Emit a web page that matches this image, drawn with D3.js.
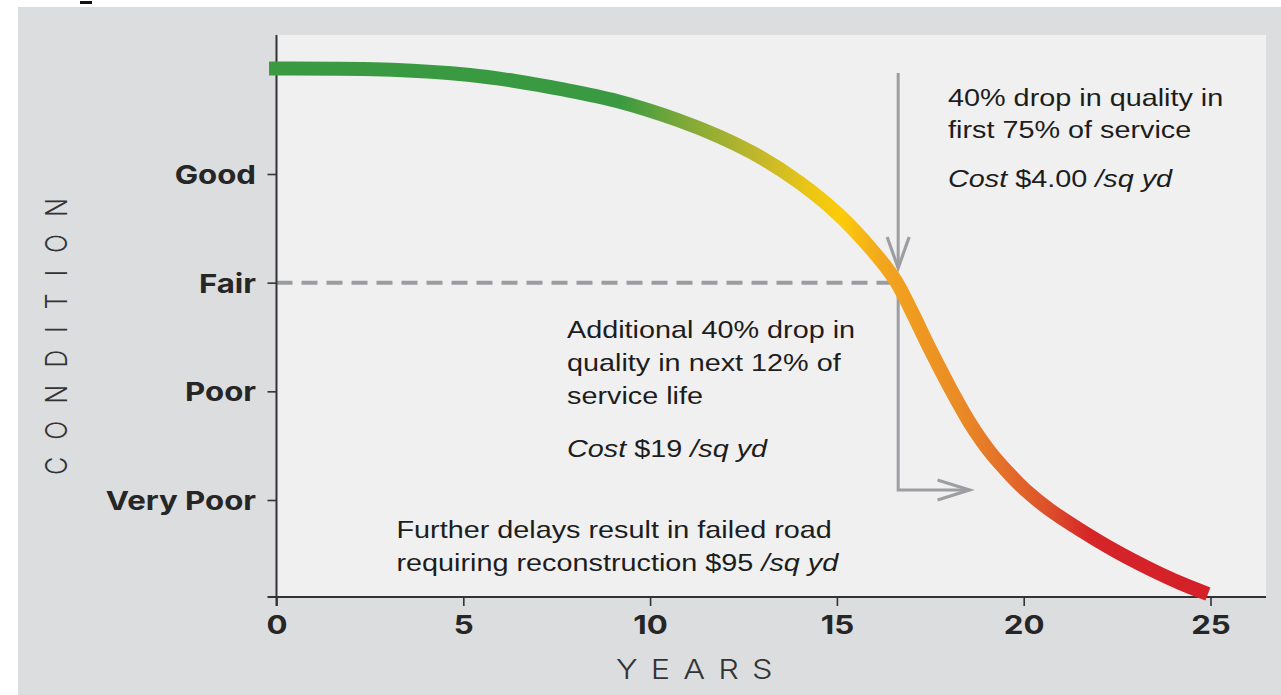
<!DOCTYPE html>
<html><head><meta charset="utf-8">
<script src="https://cdn.jsdelivr.net/npm/d3@7"></script>
<style>html,body{margin:0;padding:0;background:#fff;overflow:hidden} svg{display:block}</style>
</head><body><svg id="chart" width="1281" height="695"></svg>
<script>
// ---- data ----
const years = [-0.2, 3.09, 5.18, 6.38, 7.59, 9.11, 10.74, 11.87, 12.94, 14.01, 15.0, 15.94, 16.56, 17.01, 17.49, 18.03, 18.56, 19.10, 19.64, 20.04, 20.70, 21.51, 22.50, 23.38, 24.19, 24.93];
const condition = [4.971, 4.960, 4.911, 4.856, 4.783, 4.672, 4.497, 4.341, 4.157, 3.918, 3.641, 3.301, 3.025, 2.730, 2.390, 2.031, 1.709, 1.442, 1.231, 1.093, 0.909, 0.725, 0.522, 0.365, 0.236, 0.135];
const yearTicks = [0, 5, 10, 15, 20, 25];
const conditionTicks = [1, 2, 3, 4];
const conditionLabels = ["Very Poor", "Poor", "Fair", "Good"];
const fairLevel = 3;
const fairEndYear = 16.6;
// annotation arrows: [year, condition]
const arrowDown = [[16.64, 4.93], [16.64, 3.135]];
const arrowRight = [[16.64, 2.88], [16.64, 1.092], [18.55, 1.092]];
// colour along the years axis
const gradYears  = [0, 9.2, 10.8, 12.9, 14.2, 15.1, 16.2, 18.3, 19.4, 20.5, 21.8, 25];
const gradColors = ["#3a9a41", "#3a9a41", "#7aa83a", "#c2b72b", "#e9c516", "#fccc08", "#f2a61d", "#ea8a25", "#e4712a", "#de552b", "#d52528", "#d42029"];
const annTop = [
  [["40% drop in quality in", false]],
  [["first 75% of service", false]],
  [["Cost", true], [" $4.00 ", false], ["/sq yd", true]]
];
const annMid = [
  [["Additional 40% drop in", false]],
  [["quality in next 12% of", false]],
  [["service life", false]],
  [["Cost", true], [" $19 ", false], ["/sq yd", true]]
];
const annBottom = [
  [["Further delays result in failed road", false]],
  [["requiring reconstruction $95 ", false], ["/sq yd", true]]
];

// ---- layout ----
const SX = 1.2; // horizontal stretch of text
const svg = d3.select("#chart");
const x = d3.scaleLinear().domain([0, 25]).range([276.5, 1210.5]);
const y = d3.scaleLinear().domain([1, 4]).range([500, 174]);
const plot = {left: 277, right: 1266, top: 35, bottom: 597};

svg.append("rect").attr("x", 0).attr("y", 0).attr("width", 1281).attr("height", 695).attr("fill", "#ffffff");
svg.append("rect").attr("x", 18).attr("y", 7).attr("width", 1263).attr("height", 688).attr("fill", "#dcdddf");
svg.append("rect").attr("x", 80).attr("y", 1).attr("width", 12).attr("height", 3).attr("fill", "#111");
svg.append("rect").attr("x", plot.left).attr("y", plot.top).attr("width", plot.right - plot.left).attr("height", plot.bottom - plot.top).attr("fill", "#f0f0f0");

// gradient
const defs = svg.append("defs");
const grad = defs.append("linearGradient").attr("id", "lifeGrad").attr("gradientUnits", "userSpaceOnUse")
  .attr("x1", x(0)).attr("x2", x(25)).attr("y1", 0).attr("y2", 0);
gradYears.forEach((g, i) => grad.append("stop").attr("offset", g / 25).attr("stop-color", gradColors[i]));

// fair dashed line
svg.append("line").attr("x1", x(0)).attr("x2", x(fairEndYear)).attr("y1", y(fairLevel)).attr("y2", y(fairLevel))
  .attr("stroke", "#9b9ca0").attr("stroke-width", 4).attr("stroke-dasharray", "16,9");

// arrows
const gray = "#9d9ea2";
const lineGen = d3.line().x(d => x(d[0])).y(d => y(d[1]));
svg.append("path").attr("d", lineGen(arrowDown)).attr("fill", "none").attr("stroke", gray).attr("stroke-width", 3);
{
  const tip = arrowDown[1];
  const tx = x(tip[0]), ty = y(tip[1]);
  svg.append("path").attr("d", `M${tx - 11},${ty - 31}L${tx},${ty}L${tx + 11},${ty - 31}`)
    .attr("fill", "none").attr("stroke", gray).attr("stroke-width", 3.2);
}
svg.append("path").attr("d", lineGen(arrowRight)).attr("fill", "none").attr("stroke", gray).attr("stroke-width", 3);
{
  const tip = arrowRight[2];
  const tx = x(tip[0]), ty = y(tip[1]);
  svg.append("path").attr("d", `M${tx - 32},${ty - 10}L${tx},${ty}L${tx - 32},${ty + 10}`)
    .attr("fill", "none").attr("stroke", gray).attr("stroke-width", 3.2);
}

// axes
const axisColor = "#333336";
const xAxis = svg.append("g").attr("transform", `translate(0,${plot.bottom})`)
  .call(d3.axisBottom(x).tickValues(yearTicks).tickSize(9).tickFormat(d3.format("d")));
xAxis.select(".domain").remove();
xAxis.selectAll("line").attr("stroke", axisColor).attr("stroke-width", 1.6);
xAxis.selectAll("text").attr("y", 37).attr("dy", 0)
  .attr("transform", `scale(${SX},1)`)
  .attr("font-family", "Inter, 'Open Sans', sans-serif").attr("font-weight", 700).attr("font-size", 26).attr("fill", "#262626");

const yAxis = svg.append("g").attr("transform", `translate(${x(0)},0)`)
  .call(d3.axisLeft(y).tickValues(conditionTicks).tickSize(9).tickFormat((d, i) => conditionLabels[i]));
yAxis.select(".domain").remove();
yAxis.selectAll("line").attr("stroke", axisColor).attr("stroke-width", 1.6);
yAxis.selectAll("text").attr("x", -20.5 / SX).attr("dy", "0.36em")
  .attr("transform", `scale(${SX},1)`)
  .attr("font-family", "Inter, 'Open Sans', sans-serif").attr("font-weight", 700).attr("font-size", 26).attr("fill", "#262626");

svg.append("line").attr("x1", x(0)).attr("x2", x(0)).attr("y1", plot.top).attr("y2", plot.bottom + 9)
  .attr("stroke", axisColor).attr("stroke-width", 2);
svg.append("line").attr("x1", x(0) - 9).attr("x2", plot.right).attr("y1", plot.bottom).attr("y2", plot.bottom)
  .attr("stroke", axisColor).attr("stroke-width", 2);

// axis titles
svg.append("text").attr("transform", `translate(616,679) scale(${SX},1)`)
  .attr("font-family", "Inter, 'Open Sans', sans-serif").attr("font-weight", 300).attr("font-size", 27)
  .attr("letter-spacing", 11).attr("fill", "#333").text("YEARS");
svg.append("text").attr("transform", `translate(67,475) scale(${SX},1) rotate(-90)`)
  .attr("text-anchor", "start")
  .attr("font-family", "Inter, 'Open Sans', sans-serif").attr("font-weight", 300).attr("font-size", 25)
  .attr("letter-spacing", 17).attr("fill", "#333").text("CONDITION");

// curve
const pts = years.map((yr, i) => [yr, condition[i]]);
svg.append("path").attr("d", d3.line().x(d => x(d[0])).y(d => y(d[1])).curve(d3.curveCatmullRom.alpha(0.5))(pts))
  .attr("fill", "none").attr("stroke", "url(#lifeGrad)").attr("stroke-width", 14).attr("stroke-linecap", "butt");

// annotations
function block(x0, baselines, lines) {
  lines.forEach((parts, i) => {
    const t = svg.append("text").attr("transform", `translate(${x0},${baselines[i]}) scale(${SX},1)`)
      .attr("font-family", "'Liberation Sans', Arial, sans-serif").attr("font-size", 24).attr("fill", "#1d1d1d")
      .attr("xml:space", "preserve").style("white-space", "pre");
    parts.forEach(p => t.append("tspan").attr("font-style", p[1] ? "italic" : "normal").text(p[0]));
  });
}
block(948, [105.5, 137.5, 186.5], annTop);
block(567, [337.5, 370.5, 403.5, 456.5], annMid);
block(396.5, [537.5, 570.5], annBottom);
</script></body></html>
